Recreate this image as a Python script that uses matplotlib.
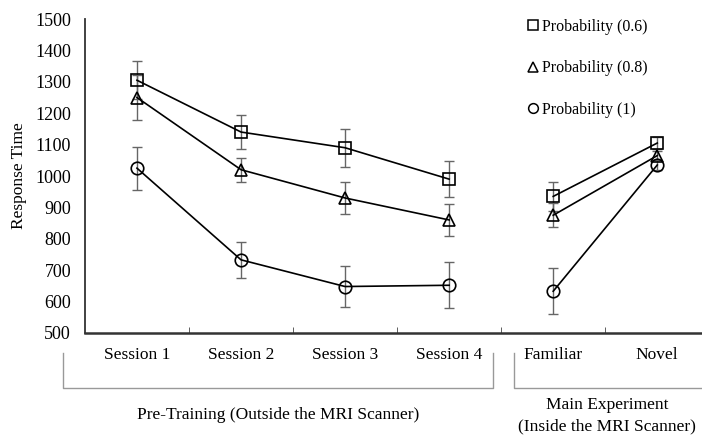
import numpy as np
import matplotlib.pyplot as plt

categories = ["Session 1", "Session 2", "Session 3", "Session 4", "Familiar", "Novel"]
labels = ["Probability (0.6)", "Probability (0.8)", "Probability (1)"]
markers = ["s", "^", "o"]

p06 = [1305, 1140, 1090, 990, 935, 1105]
p08 = [1250, 1020, 930, 860, 875, 1065]
p1 = [1025, 733, 648, 652, 633, 1035]

p06_err = [60, 55, 60, 58, 45, 18]
p08_err = [72, 38, 50, 50, 38, 15]
p1_err = [68, 58, 64, 73, 73, 15]

series = [p06, p08, p1]
errors = [p06_err, p08_err, p1_err]

plt.rcParams['font.family'] = ['Liberation Serif', 'DejaVu Serif']

fig = plt.figure(figsize=(7.02, 4.37), dpi=100)
ax = fig.add_axes([0.121, 0.238, 0.879, 0.7185])

x = np.arange(len(categories))
sizes = [9, 8.5, 9]
for vals, err, m, lab, ms in zip(series, errors, markers, labels, sizes):
    vals = np.array(vals)
    ax.errorbar(x, vals, yerr=err, fmt="none", ecolor="#666666", elinewidth=1.0,
                capsize=3.5, capthick=1.0, zorder=1)
    # pre-training and main experiment are drawn as separate segments
    ax.plot(x[:4], vals[:4], color="black", lw=1.2, marker=m, ms=ms,
            mfc="none", mec="black", mew=1.2, zorder=2)
    ax.plot(x[4:], vals[4:], color="black", lw=1.2, marker=m, ms=ms,
            mfc="none", mec="black", mew=1.2, zorder=2)
    ax.plot([], [], ls="none", marker=m, ms=7, mfc="none", mec="black",
            mew=1.1, label=lab)

ax.set_xlim(-0.5, 5.43)
ax.set_ylim(500, 1500)
ax.set_yticks(range(500, 1501, 100))
ax.set_xticks(x)
ax.set_xticklabels(categories, fontsize=12.5)
ax.set_xticks(x[:-1] + 0.5, minor=True)
ax.tick_params(axis="x", which="major", length=0, pad=10)
ax.tick_params(axis="x", which="minor", direction="in", length=4, color="#444444")
ax.tick_params(axis="y", length=0, labelsize=13, pad=10)
ax.set_ylabel("Response Time", fontsize=12.5, labelpad=6)

for s in ["top", "right"]:
    ax.spines[s].set_visible(False)
ax.spines["left"].set_color("#333333")
ax.spines["bottom"].set_color("#333333")
ax.spines["left"].set_linewidth(1.3)
ax.spines["bottom"].set_linewidth(1.8)

ax.legend(loc="upper left", bbox_to_anchor=(0.74, 0.975), bbox_transform=fig.transFigure,
          frameon=False, fontsize=11.5, labelspacing=1.6, handlelength=0.7,
          handletextpad=0.2, borderpad=0)

# brackets under the axis
W, H = 702, 437
def bracket(x0, x1, y0, y1):
    fig.add_artist(plt.Line2D([x0 / W, x0 / W, x1 / W, x1 / W],
                              [1 - y0 / H, 1 - y1 / H, 1 - y1 / H, 1 - y0 / H],
                              color="#999999", lw=1.0))

bracket(63, 493, 353, 388)
bracket(514, 703, 353, 388)

fig.text(278 / W, 1 - 415 / H, "Pre-Training (Outside the MRI Scanner)",
         ha="center", va="center", fontsize=12.5)
fig.text(607 / W, 1 - 405 / H, "Main Experiment", ha="center", va="center", fontsize=12.5)
fig.text(607 / W, 1 - 426 / H, "(Inside the MRI Scanner)", ha="center", va="center",
         fontsize=12.5)

fig.savefig("out.png", dpi=100)
